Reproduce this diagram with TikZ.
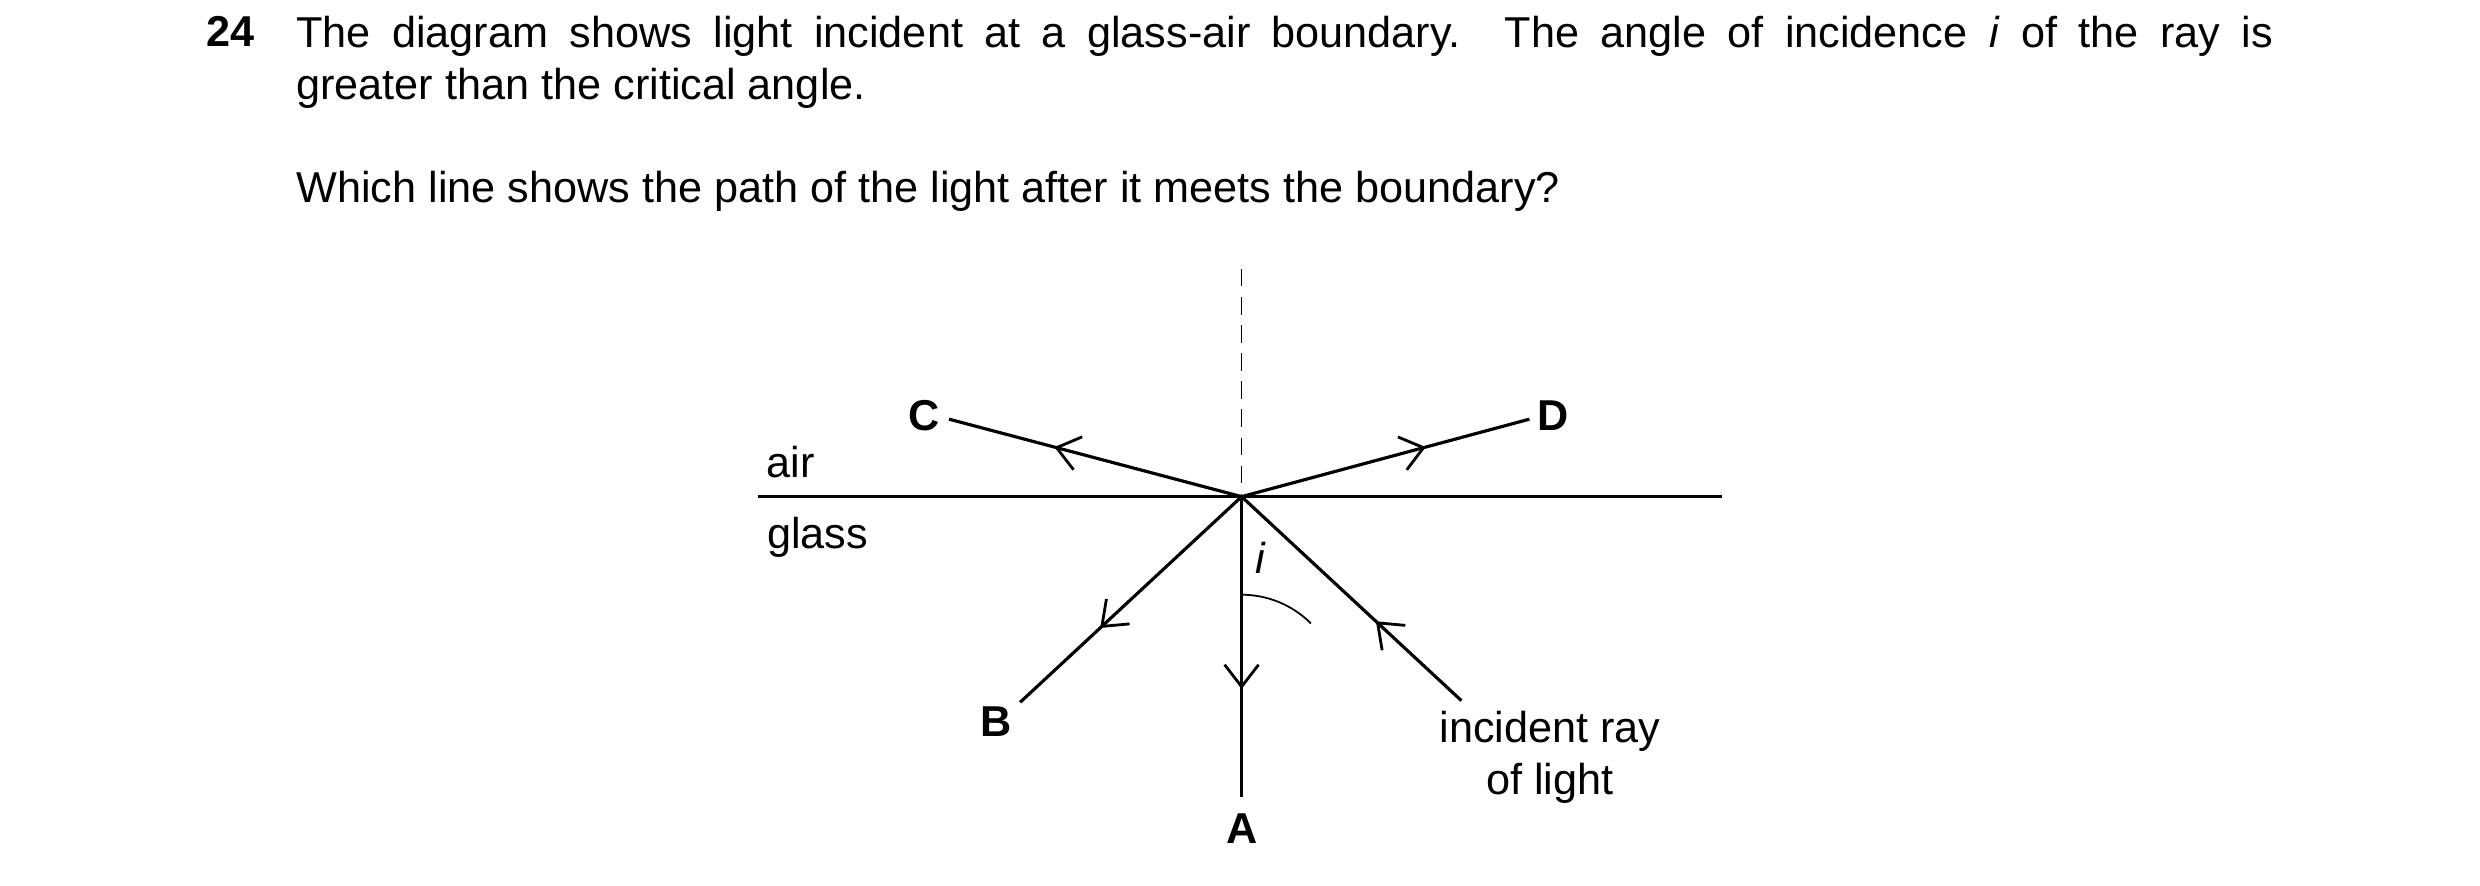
\documentclass[tikz,border=0pt]{standalone}
\usepackage{fontspec}
\setmainfont{Liberation Sans}
\usetikzlibrary{arrows.meta,decorations.markings}

\begin{document}
\begin{tikzpicture}[
            x = 0.015816cm, y = -0.015816cm, % one unit per screen pixel
            ray/.style = {line width=0.9pt, postaction={decorate},
                decoration={markings, mark=at position #1 with
                    {\arrow{Straight Barb[length=2.2mm,width=3.4mm,line width=0.8pt]}}}},
            ray/.default = 0.64,
            lbl/.style = {font=\fontsize{12.3}{14.8}\selectfont\bfseries, inner sep=1pt},
            txt/.style = {font=\fontsize{12.3}{14.8}\selectfont, inner sep=0pt}
        ]

        \useasboundingbox (0,0) rectangle (1568,560);

        % question text
        \node[txt, anchor=north west, font=\fontsize{12.3}{14.8}\selectfont\bfseries] (num) at (130,10) {24};
        \node[txt, anchor=north west, text width=19.77cm, align=justify] (q) at (187,10)
            {The diagram shows light incident at a glass-air boundary. The angle of incidence \textit{i} of the ray is\linebreak greater than the critical angle.};
        \node[txt, anchor=north west] (ask) at (187,108)
            {Which line shows the path of the light after it meets the boundary?};

        % boundary and normal
        \coordinate (o) at (785,314);
        \coordinate (left) at (479,314);
        \coordinate (right) at (1089,314);
        \coordinate (top) at (785,170);
        \draw[line width=0.9pt] (left) -- (right);
        \draw[line width=0.5pt, dash pattern=on 5pt off 3pt] (top) -- (o);

        \node[txt] (air) at (500,292) {air};
        \node[txt] (glass) at (517,340) {glass};

        % ray ends
        \coordinate (c) at (600,265);
        \coordinate (d) at (967,265);
        \coordinate (b) at (645,444);
        \coordinate (a) at (785,504);
        \coordinate (inc) at (924,443);

        \node[lbl] (lc) at (584,263) {C};
        \node[lbl] (ld) at (982,263) {D};
        \node[lbl] (lb) at (630,456) {B};
        \node[lbl] (la) at (785,524) {A};
        \node[txt, align=center] (linc) at (980,479) {incident ray\\of light};

        \draw[ray=0.39] (inc) -- (o);
        \draw[ray] (o) -- (c);
        \draw[ray] (o) -- (d);
        \draw[ray] (o) -- (b);
        \draw[ray] (o) -- (a);

        % angle of incidence
        \draw[line width=0.5pt] (785,376) arc[start angle=-90, end angle=-45, radius=62];
        \node[txt, font=\fontsize{12.3}{14.8}\selectfont\itshape] (i) at (797,353) {i};

    \end{tikzpicture}
\end{document}
